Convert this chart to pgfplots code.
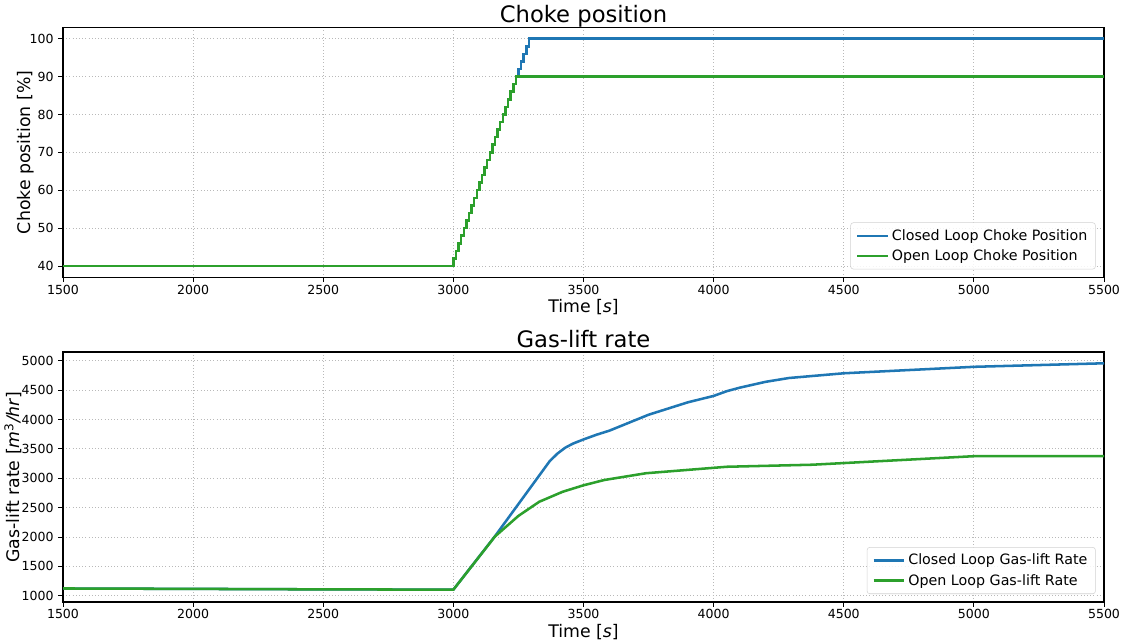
\documentclass[border=0pt]{standalone}
\usepackage{pgfplots}
\pgfplotsset{compat=1.18}
\usepackage{fontspec}
\setmainfont{DejaVu Sans}

\definecolor{tabblue}{HTML}{1F77B4}
\definecolor{tabgreen}{HTML}{2CA02C}

% Choke position set-points (held constant until the next time stamp)
\pgfplotstableread{
t v
1500 40
3000 42
3010 44
3020 46
3030 48
3040 50
3050 52
3060 54
3070 56
3080 58
3090 60
3100 62
3110 64
3120 66
3130 68
3140 70
3150 72
3160 74
3170 76
3180 78
3190 80
3200 82
3210 84
3220 86
3230 88
3240 90
3250 92
3260 94
3270 96
3280 98
3290 100
5500 100
}\chokeclosed

\pgfplotstableread{
t v
1500 40
3000 42
3010 44
3020 46
3030 48
3040 50
3050 52
3060 54
3070 56
3080 58
3090 60
3100 62
3110 64
3120 66
3130 68
3140 70
3150 72
3160 74
3170 76
3180 78
3190 80
3200 82
3210 84
3220 86
3230 88
3240 90
5500 90
}\chokeopen

% Gas-lift rate [m^3/hr]
\pgfplotstableread{
t v
1500 1125
2000 1118
2500 1110
3000 1105
3160 2015
3370 3290
3400 3420
3430 3520
3460 3590
3500 3660
3550 3740
3600 3810
3750 4080
3900 4290
4000 4400
4050 4480
4100 4540
4200 4640
4290 4705
4500 4785
5000 4895
5500 4955
}\gasclosed

\pgfplotstableread{
t v
1500 1125
2000 1118
2500 1110
3000 1105
3160 2010
3250 2360
3330 2600
3420 2770
3500 2880
3580 2970
3740 3085
4050 3195
4380 3230
5000 3375
5500 3375
}\gasopen

\pgfplotsset{
  panel/.style={
    scale only axis,
    width=780.75pt, height=187.5pt,
    xmin=1500, xmax=5500,
    xtick={1500,2000,...,5500},
    axis line style={line width=0.8pt},
    tick align=outside,
    xtick pos=bottom, ytick pos=left,
    major tick length=3.6pt,
    tick style={line width=0.6pt, black},
    tick label style={font=\fontsize{9.4}{11}\selectfont},
    xticklabel style={yshift=1.5pt},
    /pgf/number format/assume math mode=true,
    /pgf/number format/set thousands separator={},
    grid=major,
    major grid style={gray!55, dotted, line width=0.6pt},
    title style={font=\fontsize{17}{20}\selectfont, yshift=-9.4pt},
    label style={font=\fontsize{13}{15}\selectfont},
    xlabel={Time [\textit{s}]},
    xlabel style={yshift=3pt},
    legend cell align=left,
    legend style={
      at={(0.992,0.032)}, anchor=south east,
      font=\fontsize{10.7}{12.5}\selectfont,
      draw=gray!35, rounded corners=2pt,
      fill=white, fill opacity=0.85, text opacity=1,
      row sep=1.5pt, inner xsep=4pt, inner ysep=3pt,
    },
    legend image code/.code={
      \draw[#1, line width=1.9pt] (0pt,0pt) -- (23pt,0pt);
    },
  }
}

\begin{document}
\begin{tikzpicture}
\useasboundingbox (0pt,0pt) rectangle (842.25pt,-480.75pt);

\begin{axis}[panel,
  at={(47.25pt,-20.5pt)}, anchor=north west,
  ymin=37, ymax=103,
  ytick={40,50,...,100},
  title={\vphantom{p}Choke position},
  ylabel={Choke position [\%]},
  ylabel shift=-10.5pt,
]
\addplot[const plot, tabblue, line width=1.9pt] table[x=t, y=v] {\chokeclosed};
\addlegendentry{Closed Loop Choke Position}
\addplot[const plot, tabgreen, line width=1.9pt] table[x=t, y=v] {\chokeopen};
\addlegendentry{Open Loop Choke Position}
\end{axis}

\begin{axis}[panel,
  at={(47.25pt,-264pt)}, anchor=north west,
  ymin=895, ymax=5147,
  ytick={1000,1500,...,5000},
  title={\vphantom{p}Gas-lift rate},
  ylabel={Gas-lift rate [\textit{m}\textsuperscript{3}\textit{/hr}]},
  ylabel shift=-6.8pt,
]
\addplot[tabblue, line width=1.9pt] table[x=t, y=v] {\gasclosed};
\addlegendentry{Closed Loop Gas-lift Rate}
\addplot[tabgreen, line width=1.9pt] table[x=t, y=v] {\gasopen};
\addlegendentry{Open Loop Gas-lift Rate}
\end{axis}
\end{tikzpicture}
\end{document}
